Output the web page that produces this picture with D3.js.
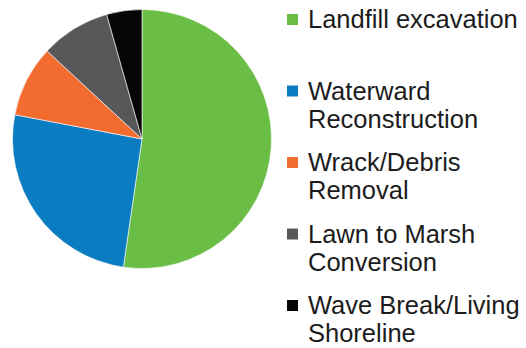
<!DOCTYPE html>
<html>
<head>
<meta charset="utf-8">
<script src="https://cdn.jsdelivr.net/npm/d3@7/dist/d3.min.js"></script>
<style>
  html, body { margin: 0; padding: 0; background: #ffffff; }
  svg { display: block; }
</style>
</head>
<body>
<svg id="chart" width="526" height="348"></svg>
<script>
// Restoration activity shares
const categories = [
  "Landfill excavation",
  "Waterward Reconstruction",
  "Wrack/Debris Removal",
  "Lawn to Marsh Conversion",
  "Wave Break/Living Shoreline"
];
const legendLines = [
  ["Landfill excavation"],
  ["Waterward", "Reconstruction"],
  ["Wrack/Debris", "Removal"],
  ["Lawn to Marsh", "Conversion"],
  ["Wave Break/Living", "Shoreline"]
];
const values = [52.3, 25.7, 8.9, 8.7, 4.4];
const colors = ["#6abd45", "#0a7cc1", "#f26b2f", "#58585b", "#050505"];

const svg = d3.select("#chart");
const cx = 142, cy = 139, radius = 129.5;

const color = d3.scaleOrdinal().domain(categories).range(colors);

const pie = d3.pie().sort(null).value(d => d.value);
const arc = d3.arc().innerRadius(0).outerRadius(radius);

const data = categories.map((c, i) => ({ name: c, value: values[i] }));

svg.append("g")
  .attr("transform", `translate(${cx},${cy})`)
  .selectAll("path")
  .data(pie(data))
  .join("path")
  .attr("d", arc)
  .attr("fill", d => color(d.data.name))
  .attr("stroke", "#ffffff")
  .attr("stroke-width", 0.6);

// Legend: each entry gets a two-line slot, text top-aligned in the slot
const fontSize = 25.5;
const lineH = 28;
const slotH = 71.5;
const firstBaseline = 28;
const textX = 308;
const boxX = 287, boxSize = 11;

const legend = svg.append("g")
  .attr("font-family", "'Liberation Sans', Arial, sans-serif")
  .attr("font-size", fontSize)
  .attr("fill", "#1c1c1c");

categories.forEach((c, i) => {
  const base = firstBaseline + i * slotH;
  legend.append("rect")
    .attr("x", boxX)
    .attr("y", base - 8.5 - boxSize / 2)
    .attr("width", boxSize)
    .attr("height", boxSize)
    .attr("fill", color(c));
  const t = legend.append("text").attr("x", textX).attr("y", base);
  legendLines[i].forEach((ln, j) => {
    t.append("tspan").attr("x", textX).attr("y", base + j * lineH).text(ln);
  });
});
</script>
</body>
</html>
